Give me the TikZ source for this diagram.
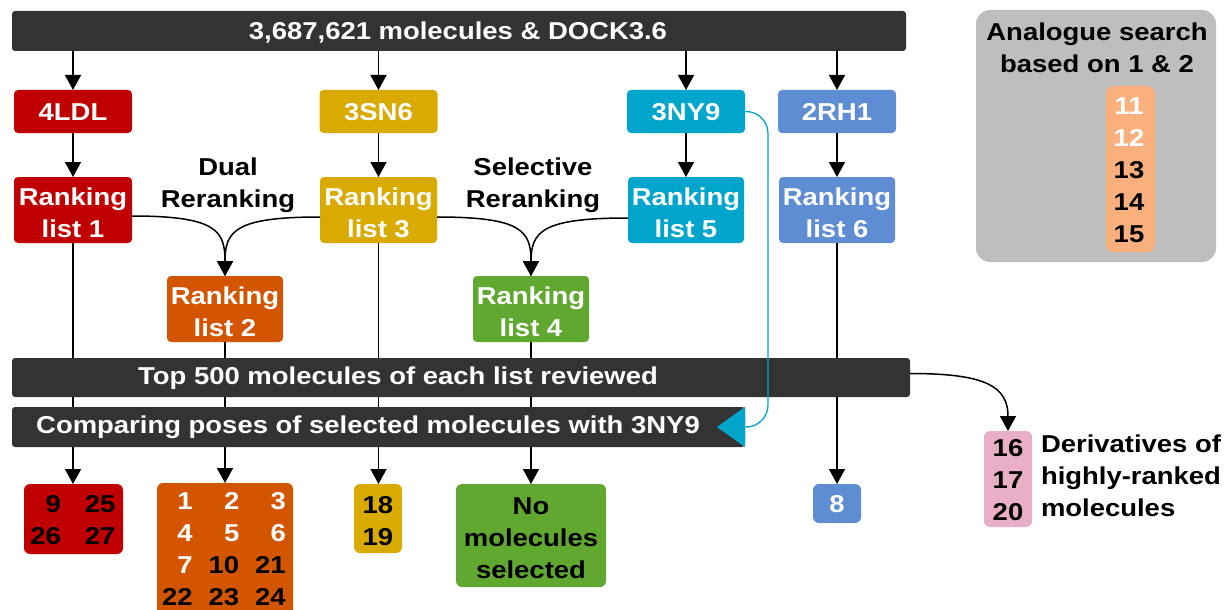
\documentclass[tikz,border=0pt]{standalone}
\usepackage{fontspec}
\setmainfont{Liberation Sans}[FakeStretch=1.125]
\usetikzlibrary{arrows.meta}
\definecolor{barc}{HTML}{333333}
\definecolor{redc}{HTML}{C00000}
\definecolor{goldc}{HTML}{D9AA00}
\definecolor{cyanc}{HTML}{00A5CB}
\definecolor{bluec}{HTML}{5F8DD3}
\definecolor{orangec}{HTML}{D45500}
\definecolor{greenc}{HTML}{60A82F}
\definecolor{pinkc}{HTML}{E8AFC7}
\definecolor{grayc}{HTML}{BEBEBE}
\definecolor{peachc}{HTML}{FAB07C}
\newcommand\wh[1]{\textcolor{white}{#1}}
\newcommand\fl[1]{\rule{0pt}{#1}}
\begin{document}
\begin{tikzpicture}[x=1pt,y=-1pt,
  every node/.style={font=\fontsize{24.4}{32}\selectfont\bfseries, inner sep=0pt, outer sep=0pt},
  one/.style={text height=17.5pt, text depth=0pt},
  tb/.style={text=white, rounded corners=4pt, align=center},
  res/.style={rounded corners=6pt},
  barst/.style={fill=barc, rounded corners=3pt},
  arr/.style={line width=1.5pt, -{Triangle[length=15pt,width=16pt]}},
  ln/.style={line width=1.5pt}]
\useasboundingbox (0,0) rectangle (1224,610);
\clip (0,0) rectangle (1224,610);

% top bar
\node[barst, minimum width=894pt, minimum height=40pt] (bar1) at (459,31) {};
\node[one, text=white] (bar1t) at (458,30.5) {3,687,621 molecules \& DOCK3.6};

% row 1
\node[tb, one, fill=redc,  minimum width=118pt, minimum height=43pt] (n4ldl) at (73,111.5) {4LDL};
\node[tb, one, fill=goldc, minimum width=118pt, minimum height=43pt] (n3sn6) at (378.5,111.5) {3SN6};
\node[tb, one, fill=cyanc, minimum width=118pt, minimum height=43pt] (n3ny9) at (686,111.5) {3NY9};
\node[tb, one, fill=bluec, minimum width=118pt, minimum height=43pt] (n2rh1) at (837,111.5) {2RH1};

% ranking lists
\node[tb, fill=redc,    minimum width=118pt, minimum height=66pt] (l1) at (73,210) {\fl{24pt}Ranking\\list 1};
\node[tb, fill=goldc,   minimum width=117pt, minimum height=66pt] (l3) at (378.5,210) {\fl{24pt}Ranking\\list 3};
\node[tb, fill=cyanc,   minimum width=116pt, minimum height=66pt] (l5) at (686,210) {\fl{24pt}Ranking\\list 5};
\node[tb, fill=bluec,   minimum width=116pt, minimum height=66pt] (l6) at (837,210) {\fl{24pt}Ranking\\list 6};
\node[tb, fill=orangec, minimum width=116pt, minimum height=66pt] (l2) at (225,309) {\fl{24pt}Ranking\\list 2};
\node[tb, fill=greenc,  minimum width=116pt, minimum height=66pt] (l4) at (531,309) {\fl{24pt}Ranking\\list 4};

\node[align=center] (dual) at (228,185) {Dual\\Reranking};
\node[align=center] (sel) at (533,185.5) {Selective\\Reranking};

% arrows from top bar
\foreach \n in {n4ldl,n3sn6,n3ny9,n2rh1}
  \draw[arr] (\n.north |- bar1.south) -- (\n.north);
% row1 -> lists
\draw[arr] (n4ldl) -- (l1);
\draw[arr] (n3sn6) -- (l3);
\draw[arr] (n3ny9) -- (l5);
\draw[arr] (n2rh1) -- (l6);

% reranking curves
\draw[arr] ([yshift=-6pt]l1.east) .. controls +(85,0) and +(0,-45) .. (l2.north);
\draw[arr] ([yshift=-7pt]l3.west) .. controls +(-85,0) and +(0,-45) .. (l2.north);
\draw[arr] ([yshift=-7pt]l3.east) .. controls +(85,0) and +(0,-45) .. (l4.north);
\draw[arr] ([yshift=-8pt]l5.west) .. controls +(-85,0) and +(0,-45) .. (l4.north);

% results
\node[res, fill=redc, minimum width=99pt, minimum height=70pt] (r1) at (73.5,519) {};
\node (r1t) at (73,522.5) {\begin{tabular}{@{}r@{\hspace{24pt}}r@{}}9 & 25\\26 & 27\end{tabular}};
\node[res, fill=orangec, minimum width=136pt, minimum height=133pt] (r2) at (225,549.5) {};
\node (r2t) at (224,550.8) {\begin{tabular}{@{}r@{\hspace{16pt}}r@{\hspace{16pt}}r@{}}\wh{1} & \wh{2} & \wh{3}\\\wh{4} & \wh{5} & \wh{6}\\\wh{7} & 10 & 21\\22 & 23 & 24\end{tabular}};
\node[res, fill=goldc, minimum width=48pt, minimum height=69pt, align=center] (r3) at (378,518.5) {\fl{21.5pt}18\\19};
\node[res, fill=greenc, minimum width=150pt, minimum height=103pt] (r4) at (531,535.5) {};
\node[align=center] (r4t) at (531,535) {\fl{23.5pt}No\\molecules\\selected};
\node[res, one, fill=bluec, text=white, minimum width=48pt, minimum height=39pt] (r8) at (837,503.5) {8};

% lines from lists to results (behind bars)
\draw[arr] (l1.south) -- (l1.south |- r1.north);
\draw[arr] (l2.south) -- (l2.south |- r2.north);
\draw[arr] (l3.south) -- (l3.south |- r3.north);
\draw[arr] (l4.south) -- (l4.south |- r4.north);
\draw[arr] (l6.south) -- (l6.south |- r8.north);

% bars 2 and 3
\node[barst, minimum width=898pt, minimum height=39pt] (bar2) at (461,377.5) {};
\node[one, text=white] (bar2t) at (398,375.5) {Top 500 molecules of each list reviewed};
\node[barst, minimum width=733pt, minimum height=40pt] (bar3) at (378.5,427) {};
\node[one, text=white] (bar3t) at (368,424.5) {Comparing poses of selected molecules with 3NY9};

% cyan connector from 3NY9 to bar 3
\coordinate (tip3) at (717,427);
\draw[cyanc, line width=1.3pt, rounded corners=22pt, -{Triangle[length=28pt,width=40pt]}]
  (n3ny9.east) -- (768,111.5) -- (768,427) -- (tip3);

% pink derivatives
\node[res, fill=pinkc, minimum width=48pt, minimum height=96pt, align=center] (pk) at (1008,479) {\fl{19.5pt}16\\17\\20};
\node[anchor=west, align=left] (pkt) at (1041,475.5) {Derivatives of\\highly-ranked\\molecules};
\draw[arr] ([yshift=4pt]bar2.east) .. controls +(75,0) and +(0,-45) .. (pk.north);

% analogue search
\node[fill=grayc, rounded corners=14pt, minimum width=240pt, minimum height=252pt] (ana) at (1096,136) {};
\node[align=center] (anat) at (1097,48) {Analogue search\\based on 1 \& 2};
\node[fill=peachc, rounded corners=8pt, minimum width=49pt, minimum height=166pt] (pch) at (1130.5,169) {};
\node[align=center] (pcht) at (1129,170) {\wh{11}\\\wh{12}\\13\\14\\15};
\end{tikzpicture}
\end{document}
